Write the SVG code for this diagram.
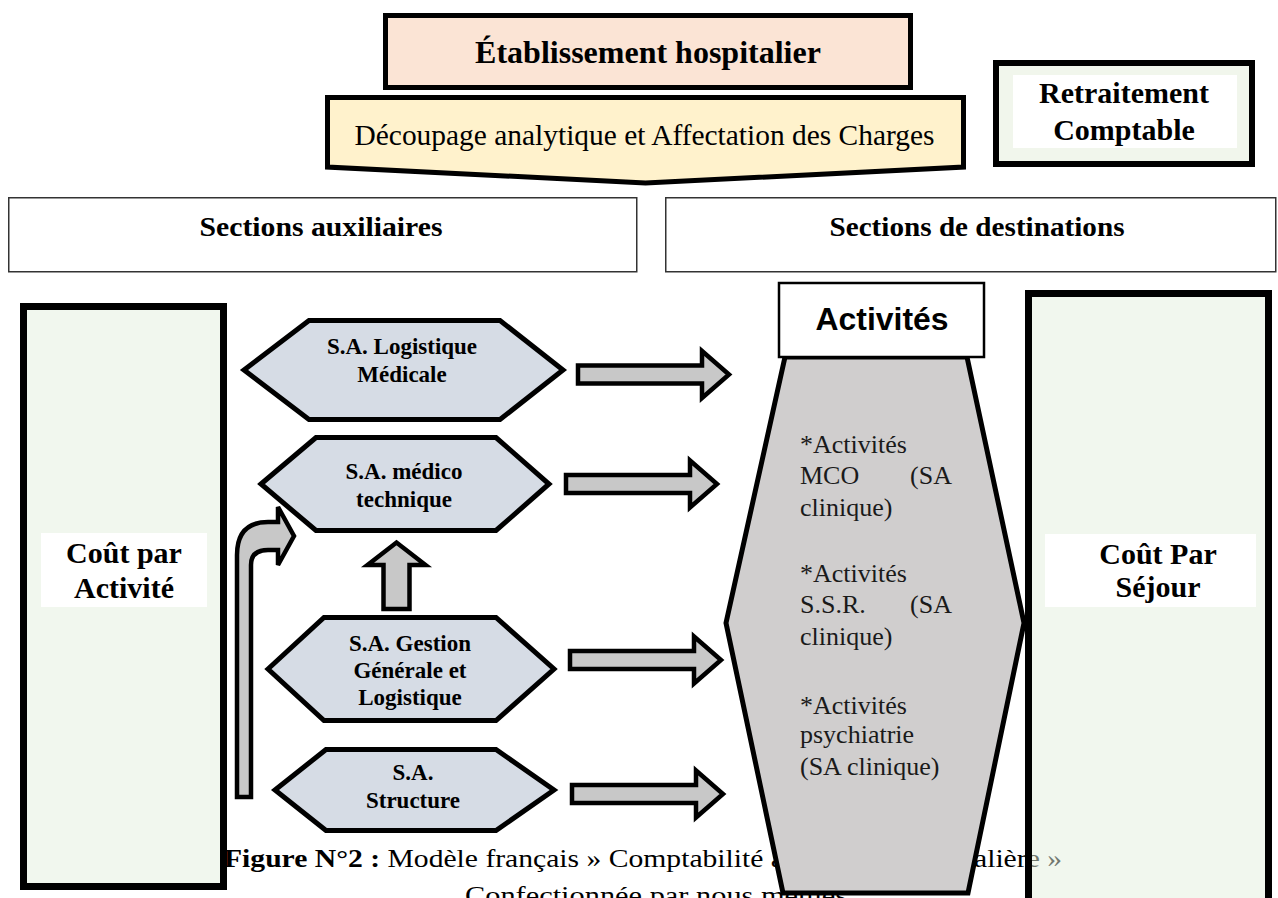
<svg xmlns="http://www.w3.org/2000/svg" width="1278" height="898" viewBox="0 0 1278 898">
<defs>
<style>
.serif{font-family:"Liberation Serif","Times New Roman",serif;fill:#000}
.b{font-weight:bold}
.c{text-anchor:middle}
.thick{stroke:#000;stroke-width:5;stroke-linejoin:miter}
.hex{fill:#d6dce5;stroke:#000;stroke-width:5}
.arr{fill:#c8c8c8;stroke:#000;stroke-width:4.5;stroke-linejoin:miter}
.sec{fill:#fff;stroke:#333;stroke-width:1.5}
.col{stroke:#000;stroke-width:7}
.act{font-size:26px;fill:#1a1a1a}
</style>
<path id="rarrow" d="M0,-9 H124 V-23.5 L151,0 L124,23.5 V9 H0 Z"/>
</defs>
<rect width="1278" height="898" fill="#fff"/>

<g id="etablissement">
<rect x="385.5" y="15.5" width="525" height="72" fill="#fbe4d5" class="thick"/>
<text x="648" y="63" class="serif b c" font-size="32">Établissement hospitalier</text>
</g>

<g id="decoupage">
<path d="M327.5,97.5 H963.5 V167 L645.5,183 L327.5,167 Z" fill="#fff2cc" class="thick"/>
<text x="644.5" y="145" class="serif c" font-size="29" textLength="580" lengthAdjust="spacingAndGlyphs">Découpage analytique et Affectation des Charges</text>
</g>

<g id="retraitement">
<rect x="996" y="63" width="256" height="101" fill="#f1f6ec" stroke="#000" stroke-width="6"/>
<rect x="1013" y="75" width="224" height="73" fill="#fff"/>
<text x="1124" y="103" class="serif b c" font-size="30">Retraitement</text>
<text x="1124" y="140" class="serif b c" font-size="30">Comptable</text>
</g>

<g id="sections-auxiliaires">
<rect x="8.75" y="197.75" width="628" height="74" class="sec"/>
<text x="321" y="236" class="serif b c" font-size="27" textLength="243" lengthAdjust="spacingAndGlyphs">Sections auxiliaires</text>
</g>

<g id="sections-destinations">
<rect x="665.75" y="197.75" width="610" height="74" class="sec"/>
<text x="977" y="236" class="serif b c" font-size="27" textLength="295" lengthAdjust="spacingAndGlyphs">Sections de destinations</text>
</g>

<g id="cout-activite">
<rect x="23.5" y="306.5" width="200" height="580" fill="#f1f7ee" class="col"/>
<rect x="41" y="533" width="166" height="74" fill="#fff"/>
<text x="124" y="563" class="serif b c" font-size="30">Coût par</text>
<text x="124" y="598" class="serif b c" font-size="30">Activité</text>
</g>

<g id="caption">
<text x="224" y="867" class="serif" font-size="26" textLength="838" lengthAdjust="spacingAndGlyphs"><tspan class="b">Figure N°2 :</tspan> Modèle français » Comptabilité analytique hospitalière »</text>
<text x="465" y="904" class="serif" font-size="26" textLength="382" lengthAdjust="spacingAndGlyphs">Confectionnée par nous mêmes</text>
</g>

<g id="sa-logistique-medicale">
<polygon points="244,370 309,320.5 500,320.5 563,370 500,419.5 309,419.5" class="hex"/>
<text x="402" y="354" class="serif b c" font-size="23">S.A. Logistique</text>
<text x="402" y="382" class="serif b c" font-size="23">Médicale</text>
</g>

<g id="sa-medico-technique">
<polygon points="261,484 316,437.5 496,437.5 549,484 496,530.5 316,530.5" class="hex"/>
<text x="404" y="479" class="serif b c" font-size="23">S.A. médico</text>
<text x="404" y="507" class="serif b c" font-size="23">technique</text>
</g>

<g id="sa-gestion">
<polygon points="268,669 324,617.5 496,617.5 554,669 496,720.5 324,720.5" class="hex"/>
<text x="410" y="651" class="serif b c" font-size="23">S.A. Gestion</text>
<text x="410" y="678" class="serif b c" font-size="23">Générale et</text>
<text x="410" y="705" class="serif b c" font-size="23">Logistique</text>
</g>

<g id="sa-structure">
<polygon points="275,790 326,749.5 496,749.5 554,790 496,830.5 326,830.5" class="hex"/>
<text x="413" y="780" class="serif b c" font-size="23">S.A.</text>
<text x="413" y="808" class="serif b c" font-size="23">Structure</text>
</g>

<g id="connectors">
<use href="#rarrow" class="arr" transform="translate(578,374.5)"/>
<use href="#rarrow" class="arr" transform="translate(566,484)"/>
<use href="#rarrow" class="arr" transform="translate(570,660)"/>
<use href="#rarrow" class="arr" transform="translate(572,794)"/>
<path d="M383.5,609 V565 H367.5 L396.5,542.5 L425.5,565 H409.5 V609 Z" class="arr"/>
<path d="M237,797 V555 Q237,522 268,522 H278 V507 L294,536 L278,565 V550 H268 Q251,550 251,565 V797 Z" class="arr"/>
</g>

<g id="activites">
<polygon points="785,357 967,357 1024,623 968,893 783,893 726,623" fill="#d0cece" stroke="#000" stroke-width="5"/>
<rect x="779" y="283" width="205" height="74" fill="#fff" stroke="#000" stroke-width="2.5"/>
<text x="882" y="330" font-family="'Liberation Sans',Arial,sans-serif" font-weight="bold" font-size="31" text-anchor="middle" textLength="133" lengthAdjust="spacingAndGlyphs">Activités</text>
<g class="serif act">
<text x="800" y="453">*Activités</text>
<text x="800" y="484">MCO</text><text x="952" y="484" text-anchor="end">(SA</text>
<text x="800" y="516">clinique)</text>
<text x="800" y="582">*Activités</text>
<text x="800" y="613">S.S.R.</text><text x="952" y="613" text-anchor="end">(SA</text>
<text x="800" y="645">clinique)</text>
<text x="800" y="714">*Activités</text>
<text x="800" y="743">psychiatrie</text>
<text x="800" y="775">(SA clinique)</text>
</g>
</g>

<g id="cout-sejour">
<rect x="1028.5" y="293.5" width="240" height="620" fill="#e3efdd" fill-opacity="0.5" class="col"/>
<rect x="1045" y="534" width="211" height="73" fill="#fff"/>
<text x="1158" y="564" class="serif b c" font-size="30">Coût Par</text>
<text x="1158" y="597" class="serif b c" font-size="30">Séjour</text>
</g>
</svg>
